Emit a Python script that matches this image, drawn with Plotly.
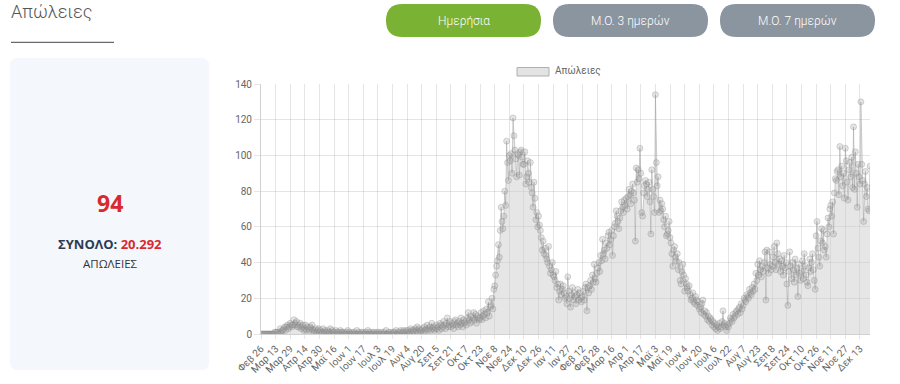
import plotly.graph_objects as go
import pandas as pd

# ---------------- data ----------------
start_date = "2020-02-26"

deaths = [
    # Feb26-Mar12 2020
    0,0,0,0,0,0,0,0,0,0,0,0,0,0,0,1,
    # Mar13-28
    1,0,1,1,0,3,1,2,2,3,4,2,4,5,3,4,
    # Mar29-Apr13
    6,5,4,5,8,5,6,7,4,4,5,6,3,4,5,2,
    # Apr14-29
    3,5,2,4,3,2,4,3,5,2,1,2,3,1,2,3,
    # Apr30-May15
    1,2,0,1,3,1,2,1,0,2,1,1,3,0,2,1,
    # May16-31
    1,0,2,1,0,1,0,2,1,1,0,1,0,0,1,2,
    # Jun1-16
    0,1,0,0,1,0,1,0,0,2,0,1,0,0,1,0,
    # Jun17-Jul2
    1,0,0,1,0,2,0,1,0,0,1,0,1,0,0,1,
    # Jul3-18
    0,1,0,0,1,0,0,1,0,2,0,0,1,0,1,0,
    # Jul19-Aug3
    0,1,1,0,2,0,1,0,1,2,0,1,2,1,0,2,
    # Aug4-19
    1,2,0,1,3,2,1,2,1,3,2,4,1,3,2,1,
    # Aug20-Sep4
    2,3,1,4,2,3,5,2,3,4,2,6,3,4,2,3,
    # Sep5-20
    5,3,4,2,6,5,3,4,7,5,3,6,9,4,5,7,
    # Sep21-Oct6
    4,6,5,3,7,8,5,6,4,7,5,9,6,4,8,6,
    # Oct7-22
    7,5,9,12,8,6,10,7,9,12,8,11,6,10,9,8,
    # Oct23-Nov7
    9,12,8,10,13,11,9,14,12,18,10,15,16,20,14,25,
    # Nov8-23
    27,33,38,41,50,43,58,71,63,59,66,80,72,108,96,86,
    # Nov24-Dec9
    100,97,101,90,121,111,103,98,88,101,100,89,102,103,99,95,
    # Dec10-25
    95,102,84,88,97,90,85,96,82,79,71,85,76,64,68,60,
    # Dec26 2020-Jan10 2021
    66,61,58,54,47,52,45,48,44,42,40,49,38,34,36,40,
    # Jan11-26
    33,32,30,35,26,28,19,24,28,22,25,27,23,20,21,17,
    # Jan27-Feb11
    32,24,20,15,22,26,19,23,21,17,22,25,19,23,20,18,
    # Feb12-27
    21,24,19,26,28,13,26,23,27,30,25,33,29,39,31,29,
    # Feb28-Mar15
    34,37,40,35,44,41,53,45,47,42,51,48,55,57,50,53,
    # Mar16-31
    58,44,55,60,62,69,66,63,59,65,69,74,71,68,75,72,
    # Apr1-16
    76,70,77,81,78,73,80,84,79,75,52,93,85,92,87,104,
    # Apr17-May2
    90,68,66,79,83,86,84,77,81,85,74,56,92,81,77,68,
    # May3-18
    134,96,83,88,68,75,69,73,70,64,60,66,55,56,58,63,
    # May19-Jun3
    54,51,45,38,47,49,43,41,45,36,40,30,28,35,39,33,
    # Jun4-19
    24,31,28,26,24,27,22,19,20,23,18,17,21,19,16,18,
    # Jun20-Jul5
    14,15,12,17,19,11,13,10,12,8,10,7,9,8,5,7,
    # Jul6-21
    4,6,3,5,2,4,6,3,4,7,13,5,6,4,2,5,
    # Jul22-Aug6
    4,6,9,8,7,11,9,10,12,13,11,14,15,12,17,14,
    # Aug7-22
    16,20,19,18,22,21,20,25,23,22,26,24,28,25,34,30,
    # Aug23-Sep7
    39,33,41,36,32,38,35,40,46,19,47,37,34,46,39,36,
    # Sep8-23
    38,43,49,40,36,51,45,39,42,35,41,38,33,44,37,40,
    # Sep24-Oct9
    28,16,35,46,38,31,40,36,29,42,33,37,21,39,34,30,
    # Oct10-25
    35,41,31,45,38,33,29,27,37,42,35,40,45,36,30,25,
    # Oct26-Nov10
    55,63,48,43,38,52,59,51,58,47,49,43,56,65,60,70,
    # Nov11-26
    72,66,74,56,79,87,86,91,92,78,105,88,94,83,90,76,
    # Nov27-Dec12
    104,97,85,75,92,96,88,99,82,116,81,102,90,71,95,88,
    # Dec13-24
    84,130,95,86,63,84,91,77,82,70,69,94,
]

tick_labels = [
    "Φεβ 26", "Μαρ 13", "Μαρ 29", "Απρ 14", "Απρ 30", "Μαϊ 16", "Ιουν 1",
    "Ιουν 17", "Ιουλ 3", "Ιουλ 19", "Αυγ 4", "Αυγ 20", "Σεπ 5", "Σεπ 21",
    "Οκτ 7", "Οκτ 23", "Νοε 8", "Νοε 24", "Δεκ 10", "Δεκ 26", "Ιαν 11",
    "Ιαν 27", "Φεβ 12", "Φεβ 28", "Μαρ 16", "Απρ 1", "Απρ 17", "Μαϊ 3",
    "Μαϊ 19", "Ιουν 4", "Ιουν 20", "Ιουλ 6", "Ιουλ 22", "Αυγ 7", "Αυγ 23",
    "Σεπ 8", "Σεπ 24", "Οκτ 10", "Οκτ 26", "Νοε 11", "Νοε 27", "Δεκ 13",
]
tick_step = 16

y_ticks = [0, 20, 40, 60, 80, 100, 120, 140]

series_name = "Απώλειες"
page_title = "Απώλειες"
buttons = ["Ημερήσια", "Μ.Ο. 3 ημερών", "Μ.Ο. 7 ημερών"]
today_value = "94"
total_label = "ΣΥΝΟΛΟ:"
total_value = "20.292"
total_unit = "ΑΠΩΛΕΙΕΣ"

# ---------------- figure ----------------
dates = pd.date_range(start_date, periods=len(deaths), freq="D")
tick_dates = list(dates[::tick_step][:len(tick_labels)])

W, H = 900, 384
L, R, T, B = 261, 870, 84, 334


def px(x):
    return (x - L) / (R - L)


def py(y):
    return (B - y) / (B - T)


def rounded(x0, y0, x1, y1, r):
    def P(x, y):
        return f"{px(x):.5f},{py(y):.5f}"
    return (f"M {P(x0 + r, y0)} L {P(x1 - r, y0)} Q {P(x1, y0)} {P(x1, y0 + r)} "
            f"L {P(x1, y1 - r)} Q {P(x1, y1)} {P(x1 - r, y1)} "
            f"L {P(x0 + r, y1)} Q {P(x0, y1)} {P(x0, y1 - r)} "
            f"L {P(x0, y0 + r)} Q {P(x0, y0)} {P(x0 + r, y0)} Z")


fig = go.Figure()
fig.add_trace(go.Scatter(
    x=dates, y=deaths, mode="lines+markers", name=series_name,
    fill="tozeroy", fillcolor="rgba(200,200,200,0.45)",
    line=dict(color="rgba(150,150,150,0.45)", width=1),
    marker=dict(size=6, color="rgba(160,160,160,0.28)",
                line=dict(color="rgba(130,130,130,0.3)", width=1)),
    showlegend=False, hoverinfo="x+y",
))

grid = "rgba(0,0,0,0.1)"
fig.update_layout(
    width=W, height=H,
    margin=dict(l=L, r=W - R, t=T, b=H - B, autoexpand=False),
    paper_bgcolor="white", plot_bgcolor="white",
    font=dict(family="Roboto, Liberation Sans, sans-serif", size=10, color="#666"),
    xaxis=dict(
        range=[dates[0], dates[-1]], tickmode="array",
        tickvals=tick_dates, ticktext=tick_labels, tickangle=-45,
        showgrid=True, gridcolor=grid, gridwidth=1,
        showline=True, linecolor="rgba(0,0,0,0.18)", linewidth=1,
        ticks="outside", ticklen=4, tickcolor=grid, automargin=False,
        tickfont=dict(size=10, color="#666"), zeroline=False,
    ),
    yaxis=dict(
        range=[0, 140], tickmode="array", tickvals=y_ticks,
        showgrid=True, gridcolor=grid, gridwidth=1,
        showline=True, linecolor="rgba(0,0,0,0.18)", linewidth=1,
        ticks="outside", ticklen=6, tickcolor=grid, automargin=False,
        tickfont=dict(size=10, color="#666"), zeroline=False,
    ),
)

shapes = []
annotations = []

# left summary panel
shapes.append(dict(type="path", xref="paper", yref="paper",
                   path=rounded(10, 58, 209, 370, 8),
                   fillcolor="#f4f7fb", line=dict(width=0), layer="below"))

# title underline
shapes.append(dict(type="line", xref="paper", yref="paper",
                   x0=px(11), x1=px(114), y0=py(42.3), y1=py(42.3),
                   line=dict(color="#444", width=1)))

# buttons
btn_boxes = [(386, 541), (553, 708), (720, 875)]
btn_colors = ["#7ab233", "#8b95a0", "#8b95a0"]
for (bx0, bx1), col, label in zip(btn_boxes, btn_colors, buttons):
    shapes.append(dict(type="path", xref="paper", yref="paper",
                       path=rounded(bx0, 4, bx1, 37, 16.5),
                       fillcolor=col, line=dict(width=0)))
    annotations.append(dict(xref="paper", yref="paper", x=px((bx0 + bx1) / 2),
                            y=py(20.5), text=label, showarrow=False,
                            xanchor="center", yanchor="middle",
                            font=dict(family="Roboto", size=12, color="white", weight=300)))

# legend box
shapes.append(dict(type="rect", xref="paper", yref="paper",
                   x0=px(517), x1=px(549), y0=py(67.5), y1=py(76),
                   fillcolor="rgba(220,220,220,0.8)",
                   line=dict(color="rgba(175,175,175,1)", width=1)))
annotations.append(dict(xref="paper", yref="paper", x=px(553), y=py(71.5),
                        text=series_name, showarrow=False, xanchor="left",
                        yanchor="middle",
                        font=dict(family="Roboto", size=10, color="#666")))

# page title
annotations.append(dict(xref="paper", yref="paper", x=px(9), y=py(12),
                        text=page_title, showarrow=False, xanchor="left",
                        yanchor="middle",
                        font=dict(family="Roboto", size=18, color="#555", weight=300)))

# summary panel text
annotations.append(dict(xref="paper", yref="paper", x=px(110), y=py(203),
                        text=f"<b>{today_value}</b>", showarrow=False,
                        xanchor="center", yanchor="middle",
                        font=dict(family="Open Sans", size=23, color="#d9292f")))
annotations.append(dict(xref="paper", yref="paper", x=px(110), y=py(243.5),
                        text=(f"<b><span style='color:#2c3b52'>{total_label}</span> "
                              f"<span style='color:#d9292f'>{total_value}</span></b>"),
                        showarrow=False, xanchor="center", yanchor="middle",
                        font=dict(family="Open Sans", size=13)))
annotations.append(dict(xref="paper", yref="paper", x=px(110), y=py(263.5),
                        text=total_unit, showarrow=False, xanchor="center",
                        yanchor="middle",
                        font=dict(family="Open Sans", size=11.5, color="#333")))

fig.update_layout(shapes=shapes, annotations=annotations)
fig.write_html("out.html")
